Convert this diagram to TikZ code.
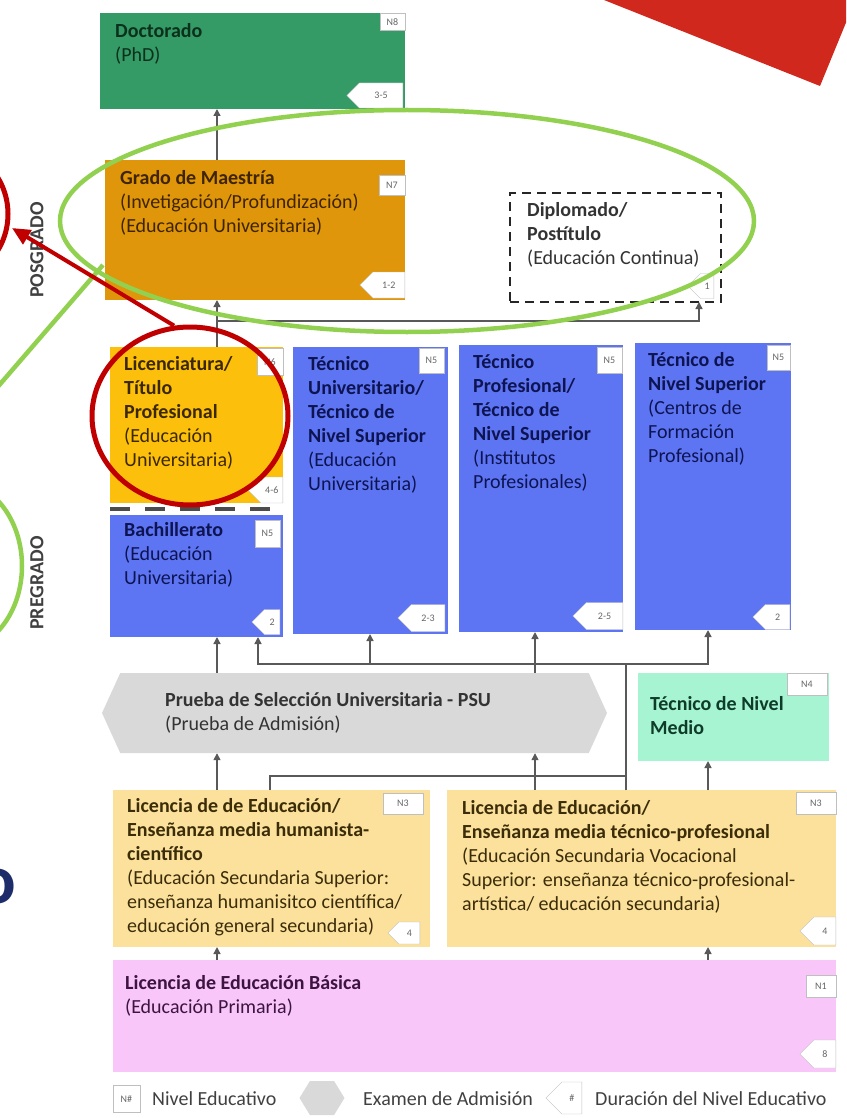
\documentclass[tikz,border=0pt]{standalone}
\usepackage{fontspec}
\setmainfont{Carlito}
\usepackage{tikz}
\usetikzlibrary{arrows.meta}
\usetikzlibrary{shapes.symbols,shapes.geometric}
\definecolor{docG}{RGB}{52,155,102}
\definecolor{docT}{RGB}{12,48,28}
\definecolor{maesO}{RGB}{224,150,10}
\definecolor{maesT}{RGB}{62,36,0}
\definecolor{licY}{RGB}{252,192,12}
\definecolor{licT}{RGB}{60,40,0}
\definecolor{blueB}{RGB}{93,117,242}
\definecolor{blueT}{RGB}{14,20,82}
\definecolor{psuG}{RGB}{217,217,217}
\definecolor{tmedM}{RGB}{166,244,210}
\definecolor{tmedT}{RGB}{14,60,40}
\definecolor{secY}{RGB}{251,225,155}
\definecolor{secT}{RGB}{60,45,10}
\definecolor{basP}{RGB}{249,198,249}
\definecolor{basT}{RGB}{60,20,65}
\definecolor{redA}{RGB}{192,0,0}
\definecolor{redS}{RGB}{209,40,30}
\definecolor{greenA}{RGB}{146,208,80}
\definecolor{navyO}{RGB}{30,45,105}
\newcommand{\fs}{\fontsize{20}{24}\selectfont}
\newcommand{\tg}{\fontsize{10}{10}\selectfont}

\begin{document}
\begin{tikzpicture}[x=1pt,y=-1pt,
  lvl/.style={anchor=north west,inner sep=0pt,outer sep=0pt},
  txt/.style={anchor=north west,inner sep=0pt,align=left,font=\fs,execute at begin node=\strut},
  niv/.style={anchor=north east,draw=black!25,fill=white,inner sep=0pt,font=\tg,text=black!60},
  dur/.style={anchor=east,signal,signal to=west,draw=black!25,fill=white,inner sep=0pt,font=\tg,text=black!60},
  flow/.style={draw=black!65,line width=1.4pt,-{Triangle[length=7pt,width=7pt]}},
  wire/.style={draw=black!65,line width=1.4pt},
  redpen/.style={draw=redA,line width=5pt},
  greenpen/.style={draw=greenA,line width=4.5pt}]
  \useasboundingbox (0,0) rectangle (846,1118);
  \clip (0,0) rectangle (846,1118);

  % posgrado
  \node[lvl,fill=docG,minimum width=305,minimum height=96] (doc) at (100,13) {};
  \node[txt,text=docT] (doc-t) at ([shift={(15,10)}]doc.north west) {\textbf{Doctorado}\\(PhD)};
  \node[niv,minimum width=25,minimum height=17] (doc-n) at (doc.north east) {N8};
  \node[dur,minimum width=56,minimum height=25] (doc-d) at ([shift={(-2,-13.5)}]doc.south east) {3-5};

  \node[lvl,fill=maesO,minimum width=300,minimum height=140] (maes) at (105,160) {};
  \node[txt,text=maesT] (maes-t) at ([shift={(15,10)}]maes.north west)
    {\textbf{Grado de Maestría}\\(Invetigación/Profundización)\\(Educación Universitaria)};
  \node[niv,minimum width=26,minimum height=20] (maes-n) at ([yshift=-15pt]maes.north east) {N7};
  \node[dur,minimum width=45,minimum height=26] (maes-d) at ([yshift=15pt]maes.south east) {1-2};

  \node[lvl,draw=black!85,line width=2.2pt,dash pattern=on 9pt off 6pt,minimum width=211,minimum height=109] (dipl) at (510,193) {};
  \node[txt,text=black!80] (dipl-t) at ([shift={(17,9)}]dipl.north west)
    {\textbf{Diplomado/}\\\textbf{Postítulo}\\(Educación Continua)};
  \node[dur,minimum width=26,minimum height=25] (dipl-d) at ([shift={(-7,-16)}]dipl.south east) {1};

  % pregrado
  \node[lvl,fill=licY,minimum width=173,minimum height=156] (lic) at (110,347) {};
  \node[txt,text=licT] (lic-t) at ([shift={(14,9)}]lic.north west)
    {\textbf{Licenciatura/}\\\textbf{Título}\\\textbf{Profesional}\\(Educación\\Universitaria)};
  \node[niv,minimum width=26,minimum height=27] (lic-n) at ([yshift=-1pt]lic.north east) {N6};
  \node[dur,minimum width=35,minimum height=26] (lic-d) at ([yshift=13pt]lic.south east) {4-6};
  \draw[black!70,line width=4pt,dash pattern=on 20pt off 15pt] ([yshift=-6pt]lic.south west) -- ([yshift=-6pt]lic.south east);

  \node[lvl,fill=blueB,minimum width=173,minimum height=122] (bach) at (110,515) {};
  \node[txt,text=blueT] (bach-t) at ([shift={(14,7)}]bach.north west)
    {\textbf{Bachillerato}\\(Educación\\Universitaria)};
  \node[niv,minimum width=25,minimum height=27] (bach-n) at ([shift={(-3,5)}]bach.north east) {N5};
  \node[dur,minimum width=28,minimum height=25] (bach-d) at ([shift={(-3,-15)}]bach.south east) {2};

  \node[lvl,fill=blueB,minimum width=155,minimum height=287] (tuni) at (293,347) {};
  \node[txt,text=blueT] (tuni-t) at ([shift={(15,9)}]tuni.north west)
    {\textbf{Técnico}\\\textbf{Universitario/}\\\textbf{Técnico de}\\\textbf{Nivel Superior}\\(Educación\\Universitaria)};
  \node[niv,minimum width=25,minimum height=25] (tuni-n) at ([shift={(-4,1)}]tuni.north east) {N5};
  \node[dur,minimum width=47,minimum height=27] (tuni-d) at ([shift={(-3,-16)}]tuni.south east) {2-3};

  \node[lvl,fill=blueB,minimum width=164,minimum height=287] (tprof) at (459,345) {};
  \node[txt,text=blueT] (tprof-t) at ([shift={(14,9)}]tprof.north west)
    {\textbf{Técnico}\\\textbf{Profesional/}\\\textbf{Técnico de}\\\textbf{Nivel Superior}\\(Institutos\\Profesionales)};
  \node[niv,minimum width=25,minimum height=26] (tprof-n) at ([shift={(-1,2)}]tprof.north east) {N5};
  \node[dur,minimum width=50,minimum height=27] (tprof-d) at ([yshift=16pt]tprof.south east) {2-5};

  \node[lvl,fill=blueB,minimum width=156,minimum height=287] (tcft) at (635,343) {};
  \node[txt,text=blueT] (tcft-t) at ([shift={(13,9)}]tcft.north west)
    {\textbf{Técnico de}\\\textbf{Nivel Superior}\\(Centros de\\Formación\\Profesional)};
  \node[niv,minimum width=23,minimum height=25] (tcft-n) at ([shift={(-1,2)}]tcft.north east) {N5};
  \node[dur,minimum width=37,minimum height=25] (tcft-d) at ([shift={(-1,-13)}]tcft.south east) {2};

  % admision y secundaria
  \node[signal,signal to=east and west,signal pointer angle=131,fill=psuG,inner sep=0pt,minimum width=505,minimum height=80] (psu) at (354.5,713) {};
  \node[txt,text=black!80] (psu-t) at (165,692) {\textbf{Prueba de Selección Universitaria - PSU}\\(Prueba de Admisión)};

  \node[lvl,fill=tmedM,minimum width=191,minimum height=88] (tmed) at (638,673) {};
  \node[txt,text=tmedT] (tmed-t) at ([shift={(12,23)}]tmed.north west) {\textbf{Técnico de Nivel}\\\textbf{Medio}};
  \node[niv,minimum width=40,minimum height=22] (tmed-n) at ([xshift=-2pt]tmed.north east) {N4};

  \node[lvl,fill=secY,minimum width=317,minimum height=157] (n3l) at (113,790) {};
  \node[txt,text=secT] (n3l-t) at ([shift={(14,8)}]n3l.north west)
    {\textbf{Licencia de de Educación/}\\\textbf{Enseñanza media humanista-}\\\textbf{científico}\\(Educación Secundaria Superior:\\enseñanza humanisitco científica/\\educación general secundaria)};
  \node[niv,minimum width=40,minimum height=21] (n3l-n) at ([shift={(-7,3)}]n3l.north east) {N3};
  \node[dur,minimum width=32,minimum height=22] (n3l-d) at ([shift={(-10,-14)}]n3l.south east) {4};

  \node[lvl,fill=secY,minimum width=389,minimum height=157] (n3r) at (447,790) {};
  \node[txt,text=secT] (n3r-t) at ([shift={(15,10)}]n3r.north west)
    {\textbf{Licencia de Educación/}\\\textbf{Enseñanza media técnico-profesional}\\(Educación Secundaria Vocacional\\Superior: enseñanza técnico-profesional-\\artística/ educación secundaria)};
  \node[niv,minimum width=40,minimum height=22] (n3r-n) at ([yshift=-2pt]n3r.north east) {N3};
  \node[dur,minimum width=36,minimum height=28] (n3r-d) at ([yshift=16pt]n3r.south east) {4};

  \node[lvl,fill=basP,minimum width=723,minimum height=112] (n1) at (113,960) {};
  \node[txt,text=basT] (n1-t) at ([shift={(12,15)}]n1.north west) {\textbf{Licencia de Educación Básica}\\(Educación Primaria)};
  \node[niv,minimum width=30,minimum height=22] (n1-n) at ([yshift=-15pt]n1.north east) {N1};
  \node[dur,minimum width=36,minimum height=28] (n1-d) at ([yshift=18pt]n1.south east) {8};

  \node[rotate=90,font=\fontsize{20}{20}\selectfont\bfseries,text=black!75] (pos) at (37,250) {POSGRADO};
  \node[rotate=90,font=\fontsize{20}{20}\selectfont\bfseries,text=black!75] (pre) at (37,583) {PREGRADO};

  % conexiones
  \coordinate (xa) at (217,0);
  \coordinate (xb) at (258,0);
  \coordinate (xc) at (270,0);
  \coordinate (xd) at (370,0);
  \coordinate (xe) at (535,0);
  \coordinate (xf) at (626,0);
  \coordinate (xg) at (699,0);
  \coordinate (xh) at (708,0);
  \coordinate (ja) at (217,321);
  \coordinate (jb) at (626,664);
  \coordinate (jc) at (626,776);
  \draw[flow] (maes.north -| xa) -- (doc.south -| xa);
  \draw[flow] (lic.north -| xa) -- (maes.south -| xa);
  \draw[flow] (ja) -| (dipl.south -| xg);
  \draw[flow] (psu.north -| xa) -- (bach.south -| xa);
  \draw[flow] (jb) -| (bach.south -| xb);
  \draw[flow] (jb -| xd) -- (tuni.south -| xd);
  \draw[flow] (psu.north -| xe) -- (tprof.south -| xe);
  \draw[flow] (jb) -| (tcft.south -| xh);
  \draw[wire] (n3r.north -| xf) -- (jb);
  \draw[wire] (n3l.north -| xc) |- (jc);
  \draw[flow] (n3l.north -| xa) -- (psu.south -| xa);
  \draw[flow] (n3r.north -| xe) -- (psu.south -| xe);
  \draw[flow] (n3r.north -| xh) -- (tmed.south -| xh);
  \draw[flow] (n1.north -| xa) -- (n3l.south -| xa);
  \draw[flow] (n1.north -| xh) -- (n3r.south -| xh);

  % leyenda
  \node[niv,minimum width=27,minimum height=27] (key1) at (140,1085) {N\#};
  \node[anchor=base west,inner sep=0pt,font=\fs,text=black!75] (key1-t) at (152,1105) {Nivel Educativo};
  \node[signal,signal to=east and west,signal pointer angle=117,fill=psuG,inner sep=0pt,minimum width=45,minimum height=34] (key2) at (322,1098) {};
  \node[anchor=base west,inner sep=0pt,font=\fs,text=black!75] (key2-t) at (363,1105) {Examen de Admisión};
  \node[dur,minimum width=36,minimum height=32] (key3) at (582,1098) {\#};
  \node[anchor=base west,inner sep=0pt,font=\fs,text=black!75] (key3-t) at (595,1105) {Duración del Nivel Educativo};

  % marcas
  \fill[redS] (604,0) -- (820,86) -- (852,8) -- (852,0) -- cycle;
  \node[greenpen,ellipse,inner sep=0pt,minimum width=694,minimum height=222] (oval) at (407,221) {};
  \coordinate (g1) at (103,265);
  \coordinate (g2) at (-5,390);
  \draw[greenpen] (g1) -- (g2);
  \draw[greenpen] (-45,566) ellipse [x radius=67,y radius=85];
  \draw[redpen] (-62,214) circle [radius=70];
  \node[redpen,ellipse,inner sep=0pt,minimum width=196,minimum height=178] (ring) at (190,416) {};
  \coordinate (ptr) at (12,228);
  \draw[draw=redA,line width=4pt,-{Triangle[length=18pt,width=16pt]}] (ring.100) -- (ptr);
  \node[anchor=base east,inner sep=0pt,font=\fontsize{70}{70}\selectfont\bfseries,text=navyO] (oo) at (16,903) {o};
\end{tikzpicture}
\end{document}
